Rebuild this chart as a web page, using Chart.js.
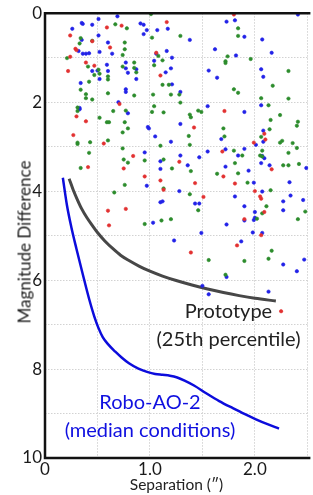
<!DOCTYPE html>
<html>
<head>
<meta charset="utf-8">
<script src="https://cdn.jsdelivr.net/npm/chart.js@4.4.1/dist/chart.umd.min.js"></script>
<style>
  html, body { margin: 0; padding: 0; background: #fff; }
  #wrap { position: relative; width: 313px; height: 495px; overflow: hidden; font-family: Lato, sans-serif; }
  #wrap canvas { position: absolute; left: 0; top: 0; }
  .note { position: absolute; white-space: nowrap; text-align: center; font-size: 20px; line-height: 28px; transform: translateX(-50%); }
  #proto { left: 228.5px; top: 296px; color: #222; }
  #robo { left: 150px; top: 387px; color: #1010e0; }
  #ytitle { position: absolute; left: 23.5px; top: 241.5px; font-size: 17px; color: #222; white-space: nowrap;
            transform: translate(-50%, -50%) rotate(-90deg); }
  #xtitle { position: absolute; left: 176.5px; top: 484px; font-size: 15.5px; color: #222; white-space: nowrap;
            transform: translate(-50%, -50%); }
</style>
</head>
<body>
<div id="wrap">
  <canvas id="chart" width="313" height="495"></canvas>
  <div class="note" id="proto">Prototype<br>(25th percentile)</div>
  <div class="note" id="robo">Robo-AO-2<br>(median conditions)</div>
  <div id="ytitle">Magnitude Difference</div>
  <div id="xtitle">Separation (″)</div>
</div>
<script>
// companions [separation, magnitude difference]
const redPts = [
  [0.59,0.32],[0.73,0.28],[1.16,0.20],[0.24,0.50],[0.45,0.63],[0.62,0.77],[0.29,0.80],[0.30,0.83],
  [0.24,0.98],[0.39,1.11],[0.47,1.18],[0.22,1.30],[1.06,0.89],[1.10,1.40],[0.71,2.04],[1.80,0.03],
  [0.30,2.32],[0.39,2.43],[0.27,2.74],[0.56,2.93],[0.84,3.21],[0.41,3.46],[0.75,3.49],[0.95,3.67],
  [1.10,3.76],[1.13,3.97],[1.71,2.20],[1.42,2.57],[2.09,2.71],[2.10,2.84],[1.99,2.91],[1.69,3.11],
  [1.28,3.34],[2.16,3.51],[1.70,3.67],[1.43,3.82],[1.81,3.83],[2.00,4.00],[1.51,4.13],[2.05,4.12],
  [2.06,4.17],[2.09,4.47],[1.90,4.63],[2.06,4.99],[1.83,5.22],[1.39,5.38],[2.25,6.70],[0.60,4.44],
  [0.77,4.40],[0.61,4.77]
];
const greenPts = [
  [0.67,0.25],[0.78,0.34],[1.02,0.55],[0.34,0.56],[0.33,0.68],[0.45,0.62],[0.76,0.66],[0.76,0.81],
  [0.74,0.94],[0.21,1.01],[0.41,1.20],[0.85,1.11],[0.85,1.23],[0.74,1.20],[0.87,1.33],[0.51,1.27],
  [0.52,1.36],[0.47,1.39],[0.60,1.42],[0.60,1.49],[0.42,1.54],[1.08,0.96],[1.12,1.06],[1.04,1.17],
  [1.12,1.61],[1.18,1.61],[0.34,1.72],[0.39,1.82],[0.39,1.91],[0.45,1.94],[0.60,1.80],[0.85,1.85],
  [1.03,1.83],[1.20,1.83],[0.31,2.12],[1.04,2.09],[1.01,0.02],
  [1.84,0.34],[1.84,0.51],[1.29,0.51],[1.74,0.97],[1.72,1.08],[1.72,1.12],[1.96,1.03],[2.32,1.30],
  [2.17,1.63],[1.80,1.71],[1.84,1.79],[1.28,1.83],[2.06,1.91],[2.32,1.92],[1.29,2.01],[2.13,2.07],
  [0.31,2.20],[0.65,2.20],[0.77,2.19],[0.52,2.35],[0.59,2.45],[0.61,2.45],[0.76,2.45],[1.02,2.22],
  [1.13,2.23],[0.79,2.59],[0.74,2.68],[0.31,2.94],[0.31,2.91],[0.43,2.90],[0.60,2.86],[1.10,2.98],
  [0.74,3.04],[0.42,3.14],[0.75,3.29],[0.79,3.36],[0.95,3.31],[1.13,3.29],[0.34,3.48],[1.21,3.49],
  [0.76,3.86],[1.13,3.94],[0.66,4.03],
  [1.38,2.28],[1.39,2.34],[1.46,2.19],[1.49,2.22],[2.24,2.29],[2.15,2.40],[2.41,2.44],[2.40,2.53],
  [1.70,2.59],[2.14,2.61],[1.37,2.76],[1.71,2.77],[2.06,2.78],[2.26,2.87],[2.24,2.91],[2.36,2.92],
  [1.38,2.96],[2.40,3.03],[1.80,3.09],[2.07,3.09],[2.05,3.20],[2.07,3.22],[2.32,3.14],[1.88,3.20],
  [2.27,3.42],[2.32,3.42],[2.42,3.39],[1.81,3.37],[1.39,3.55],[1.84,3.60],[1.64,3.61],[1.93,3.81],
  [2.15,3.98],[1.38,4.07],[2.11,4.34],
  [1.46,4.43],[2.07,4.50],[2.48,4.46],[2.02,4.62],[2.41,4.63],[2.16,5.34],[1.56,5.55],[1.90,5.57],
  [2.13,5.52],[1.72,5.88],[0.95,4.74],[1.11,4.66],[1.20,4.63]
];
const bluePts = [
  [0.51,0.13],[0.69,0.07],[0.26,0.35],[0.35,0.22],[0.36,0.24],[0.45,0.26],[0.91,0.23],[0.94,0.26],
  [0.97,0.38],[1.07,0.38],[1.17,0.35],[0.94,0.47],[0.35,0.60],[0.51,0.50],[0.60,0.66],[0.64,0.91],
  [0.52,0.87],[0.32,0.85],[0.36,0.91],[0.39,0.91],[0.42,0.90],[0.59,1.16],[0.77,1.11],[0.77,1.24],
  [0.87,1.26],[0.79,1.34],[0.45,1.30],[0.50,1.29],[0.60,1.30],[0.52,1.48],[0.87,1.48],[0.34,1.57],
  [1.06,0.91],[1.16,0.85],[1.21,1.00],[1.04,1.07],[1.20,1.24],[1.15,1.33],[1.21,1.60],[0.77,1.71],
  [0.77,1.77],[0.70,2.00],[0.33,2.13],
  [2.41,0.03],[1.73,0.19],[1.81,0.16],[1.90,0.53],[1.38,0.60],[2.07,0.59],[1.62,0.81],[2.16,0.89],
  [1.82,0.95],[1.56,1.29],[2.06,1.26],[2.08,1.43],[1.64,1.45],[1.29,1.77],[1.55,2.09],[2.06,2.07],
  [0.33,2.16],[0.79,2.25],[0.98,2.56],[0.99,2.59],[1.05,2.77],[1.20,2.89],[0.95,3.13],[1.10,3.33],
  [1.10,3.50],[0.97,3.88],[1.10,4.25],[1.12,4.23],
  [1.90,2.22],[1.29,2.49],[2.08,2.64],[1.68,2.83],[2.08,2.89],[2.01,2.96],[1.55,3.11],[1.72,3.06],
  [1.90,3.05],[2.09,3.26],[2.07,3.21],[1.29,3.20],[1.47,3.24],[1.84,3.20],[2.06,3.37],[2.14,3.42],
  [2.49,3.48],[1.72,3.45],[1.36,3.42],[1.94,3.54],[1.99,3.81],[2.33,3.80],[1.28,4.00],[2.07,4.01],
  [1.81,4.12],[2.34,4.10],[2.46,4.20],[2.27,4.23],[1.43,4.28],[1.47,4.28],[1.90,4.34],
  [2.00,4.47],[2.27,4.43],[1.73,4.75],[2.00,4.60],[1.99,4.65],[1.90,4.66],[1.49,4.94],[1.98,4.93],
  [2.07,4.94],[1.87,5.13],[2.27,5.65],[2.47,5.54],[2.40,5.80],[1.73,5.93],[1.50,6.13],[1.56,6.32],
  [2.13,6.26],[1.03,4.71],[1.23,5.11]
];

// contrast curves
const protoX = [0.23, 0.27, 0.31, 0.35, 0.40, 0.45, 0.50, 0.57, 0.65, 0.72, 0.80, 0.90, 1.00, 1.12,
                1.25, 1.40, 1.55, 1.70, 1.85, 2.00, 2.20];
const protoY = [3.72, 3.98, 4.20, 4.40, 4.60, 4.77, 4.93, 5.12, 5.30, 5.44, 5.56, 5.69, 5.80, 5.91,
                6.01, 6.11, 6.20, 6.28, 6.35, 6.41, 6.47];
const roboX = [0.17, 0.21, 0.25, 0.30, 0.36, 0.42, 0.47, 0.51, 0.55, 0.60, 0.67, 0.73, 0.80, 0.89, 0.98,
               1.05, 1.12, 1.19, 1.26, 1.33, 1.42, 1.54, 1.66, 1.79, 1.90, 2.01, 2.12, 2.23];
const roboY = [3.70, 4.33, 4.80, 5.30, 5.87, 6.42, 6.82, 7.08, 7.28, 7.44, 7.61, 7.74, 7.87, 7.99, 8.07,
               8.11, 8.13, 8.15, 8.19, 8.26, 8.37, 8.55, 8.72, 8.88, 9.01, 9.13, 9.24, 9.34];

const xTickLabels = { 0: '0', 1: '1.0', 2: '2.0' };
const yTickLabels = [0, 2, 4, 6, 8, 10];

const toXY = pts => pts.map(p => ({ x: p[0], y: p[1] }));
const zipXY = (xs, ys) => xs.map((x, i) => ({ x: x, y: ys[i] }));

const dots = (data, color) => ({
  data: toXY(data), showLine: false, pointRadius: 1.7, pointBorderWidth: 0.6,
  pointBackgroundColor: color, pointBorderColor: color
});

// thick black frame: left, bottom and top edges
const framePlugin = {
  id: 'frame',
  afterDatasetsDraw(chart) {
    const { ctx, chartArea: a } = chart;
    ctx.save();
    ctx.strokeStyle = '#111';
    ctx.lineWidth = 2.5;
    ctx.beginPath();
    ctx.moveTo(a.right + 2, a.top);
    ctx.lineTo(a.left, a.top);
    ctx.lineTo(a.left, a.bottom);
    ctx.lineTo(a.right + 2, a.bottom);
    ctx.stroke();
    ctx.restore();
  }
};

const tickFont = { family: 'Lato', size: 17 };

new Chart(document.getElementById('chart'), {
  type: 'scatter',
  data: {
    datasets: [
      dots(redPts, '#e23131'),
      dots(greenPts, '#2c8c2c'),
      dots(bluePts, '#2222e8'),
      { data: zipXY(protoX, protoY), showLine: true, borderColor: '#474747', borderWidth: 3,
        pointRadius: 0, cubicInterpolationMode: 'monotone' },
      { data: zipXY(roboX, roboY), showLine: true, borderColor: '#0c0cdc', borderWidth: 2.5,
        pointRadius: 0, cubicInterpolationMode: 'monotone' }
    ]
  },
  options: {
    responsive: false,
    animation: false,
    layout: { padding: { top: 8.5, right: 0, left: 0, bottom: 0 } },
    plugins: { legend: { display: false }, tooltip: { enabled: false } },
    scales: {
      x: {
        type: 'linear', min: 0, max: 2.51,
        afterFit: s => { s.height = 37; },
        grid: { color: '#d2d2d2', lineWidth: 1, drawTicks: false },
        border: { display: false, dash: [1.5, 1.5] },
        ticks: {
          stepSize: 0.5, includeBounds: false, padding: 1, maxRotation: 0, autoSkip: false,
          color: '#1a1a1a', font: tickFont,
          callback: v => (xTickLabels[v] !== undefined ? xTickLabels[v] : '')
        }
      },
      y: {
        type: 'linear', min: 0, max: 10, reverse: true,
        afterFit: s => { s.width = 45; },
        grid: { color: '#d2d2d2', lineWidth: 1, drawTicks: false },
        border: { display: false, dash: [1.5, 1.5] },
        ticks: {
          stepSize: 1, padding: 3, autoSkip: false, color: '#1a1a1a', font: tickFont,
          callback: v => (yTickLabels.includes(v) ? String(v) : '')
        }
      }
    }
  },
  plugins: [framePlugin]
});
</script>
</body>
</html>
